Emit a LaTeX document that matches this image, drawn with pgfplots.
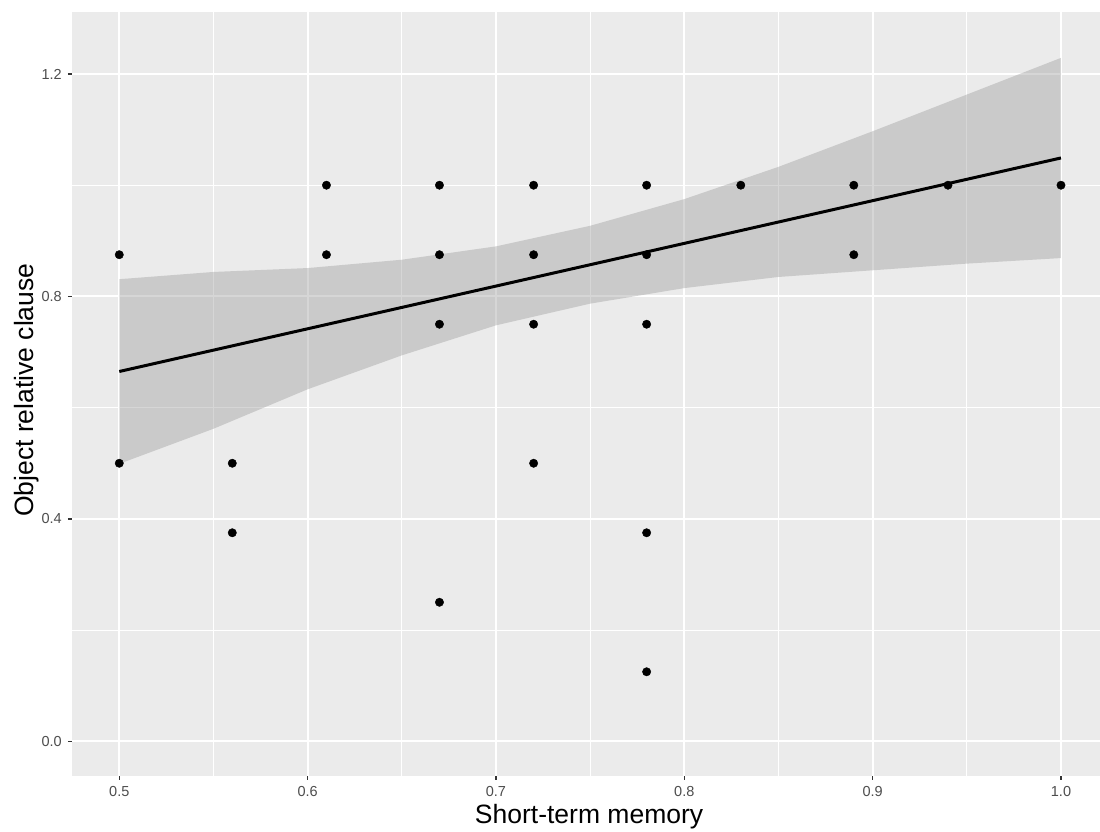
\documentclass[border=0pt]{standalone}
\usepackage{fontspec}
\setmainfont{Liberation Sans}
\usepackage{pgfplots}
\pgfplotsset{compat=1.18}
\definecolor{ggbg}{HTML}{EBEBEB}
\definecolor{gray30}{HTML}{4D4D4D}
\definecolor{gray20}{HTML}{333333}
\definecolor{bandc}{HTML}{999999}
\begin{document}
\begin{tikzpicture}
\path[use as bounding box] (0,0) rectangle (1100pt,832pt);
\begin{axis}[
  at={(72pt,56pt)}, anchor=south west,
  scale only axis, width=1028pt, height=764pt,
  xmin=0.4749, xmax=1.0207, ymin=-0.0624, ymax=1.3115,
  axis background/.style={fill=ggbg},
  axis line style={draw=none},
  xtick={0.5,0.6,0.7,0.8,0.9,1.0},
  xticklabels={0.5,0.6,0.7,0.8,0.9,1.0},
  ytick={0,0.4,0.8,1.2},
  yticklabels={0.0,0.4,0.8,1.2},
  minor xtick={0.55,0.65,0.75,0.85,0.95},
  minor ytick={0.2,0.6,1.0},
  grid=both,
  major grid style={white, line width=2pt},
  minor grid style={white, line width=1pt},
  minor tick length=0pt,
  major tick length=4pt,
  tick align=outside,
  xtick pos=bottom, ytick pos=left,
  tick style={gray20, line width=1.5pt},
  /pgf/number format/assume math mode=true,
  tick label style={font=\fontsize{14.5}{16}\selectfont, text=gray30, inner sep=0pt},
  xticklabel style={yshift=-6pt},
  yticklabel style={xshift=-6pt},
  xlabel={Short-term memory},
  xlabel style={at={(axis description cs:0.503,0)}, anchor=base, yshift=-48pt, font=\fontsize{26.5}{30}\selectfont},
  ylabel={Object relative clause},
  ylabel style={at={(axis description cs:-0.0379,0.505)}, anchor=base, font=\fontsize{26.5}{30}\selectfont},
]
% observed points
\addplot[only marks, mark=*, mark size=4.2pt, mark options={fill=black, draw=none}] coordinates {
(0.5,0.875) (0.5,0.5)
(0.56,0.5) (0.56,0.375)
(0.61,1.0) (0.61,0.875)
(0.67,1.0) (0.67,0.875) (0.67,0.75) (0.67,0.25)
(0.72,1.0) (0.72,0.875) (0.72,0.75) (0.72,0.5)
(0.78,1.0) (0.78,0.875) (0.78,0.75) (0.78,0.375) (0.78,0.125)
(0.83,1.0)
(0.89,1.0) (0.89,0.875)
(0.94,1.0)
(1.0,1.0)
};
% confidence band
\addplot[draw=none, fill=bandc, fill opacity=0.4] coordinates {
(0.5,0.831) (0.55,0.844) (0.6,0.851) (0.65,0.866) (0.7,0.890) (0.75,0.927) (0.8,0.975) (0.85,1.033) (0.9,1.097) (0.95,1.163) (1.0,1.229)
(1.0,0.869) (0.95,0.859) (0.9,0.847) (0.85,0.835) (0.8,0.815) (0.75,0.787) (0.7,0.748) (0.65,0.694) (0.6,0.633) (0.55,0.562) (0.5,0.499)
};
% fitted line
\addplot[black, line width=3pt] coordinates {(0.5,0.665) (1.0,1.049)};
\end{axis}
\end{tikzpicture}
\end{document}
